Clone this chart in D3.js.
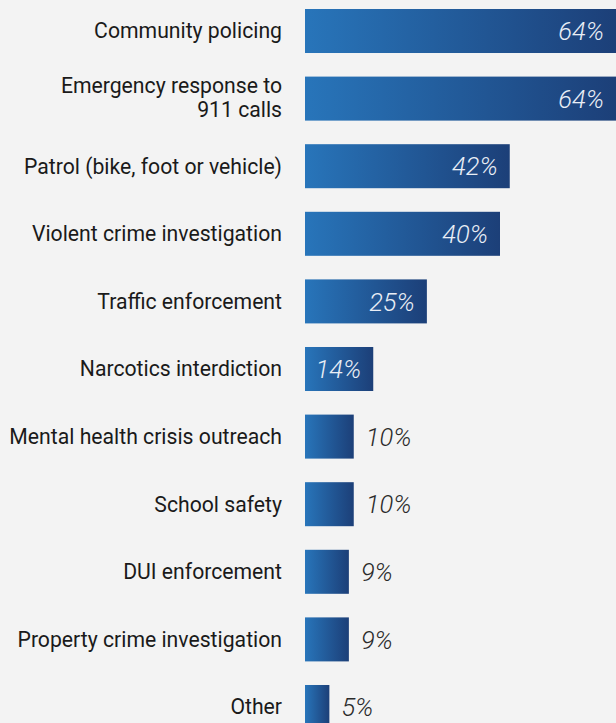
<!DOCTYPE html>
<html>
<head>
<meta charset="utf-8">
<script src="https://cdn.jsdelivr.net/npm/d3@7"></script>
<style>
  html, body { margin: 0; padding: 0; background: #f3f3f3; overflow: hidden; }
  svg { display: block; }
</style>
</head>
<body>
<script>
// Police functions and share of agencies naming each one
const categories = [
  "Community policing",
  "Emergency response to\n911 calls",
  "Patrol (bike, foot or vehicle)",
  "Violent crime investigation",
  "Traffic enforcement",
  "Narcotics interdiction",
  "Mental health crisis outreach",
  "School safety",
  "DUI enforcement",
  "Property crime investigation",
  "Other"
];
const values = [64, 64, 42, 40, 25, 14, 10, 10, 9, 9, 5];
const valueLabels = ["64%", "64%", "42%", "40%", "25%", "14%", "10%", "10%", "9%", "9%", "5%"];

const W = 616, H = 723;
const svg = d3.select("body").append("svg").attr("width", W).attr("height", H);

svg.append("rect").attr("width", W).attr("height", H).attr("fill", "#f3f3f3");

const defs = svg.append("defs");
const grad = defs.append("linearGradient").attr("id", "barGrad")
  .attr("x1", "0%").attr("x2", "100%").attr("y1", "0%").attr("y2", "0%");
grad.append("stop").attr("offset", "0%").attr("stop-color", "#2875ba");
grad.append("stop").attr("offset", "100%").attr("stop-color", "#1c3f78");

const x = d3.scaleLinear().domain([0, 64]).range([305, 617]);
const y = d3.scaleBand().domain(d3.range(categories.length))
  .range([9, 729]).paddingInner(0.349).paddingOuter(0);

const rows = svg.selectAll("g.row").data(values).join("g").attr("class", "row");

rows.append("rect")
  .attr("x", x(0))
  .attr("y", (d, i) => y(i))
  .attr("width", d => x(d) - x(0))
  .attr("height", y.bandwidth())
  .attr("fill", "url(#barGrad)");

// category labels
rows.each(function (d, i) {
  const lines = categories[i].split("\n");
  const cy = y(i) + y.bandwidth() / 2 - (lines.length > 1 ? 1.5 : 0);
  const lh = 24;
  const t = d3.select(this).append("text")
    .attr("x", 282)
    .attr("text-anchor", "end")
    .attr("font-family", "Roboto, sans-serif")
    .attr("font-size", 21.2)
    .attr("fill", "#1a1a1a");
  lines.forEach((ln, k) => {
    t.append("tspan")
      .attr("x", 282)
      .attr("y", cy + (k - (lines.length - 1) / 2) * lh)
      .attr("dy", "0.35em")
      .text(ln);
  });
});

// value labels: inside long bars, outside short ones
const inside = d => d >= 12;
rows.append("text")
  .attr("x", d => inside(d) ? Math.min(x(d), W) - 12 : x(d) + 12)
  .attr("y", (d, i) => y(i) + y.bandwidth() / 2)
  .attr("dy", "0.36em")
  .attr("text-anchor", d => inside(d) ? "end" : "start")
  .attr("font-family", "Roboto, sans-serif")
  .attr("font-style", "italic")
  .attr("font-weight", 300)
  .attr("font-size", 25.5)
  .attr("fill", d => inside(d) ? "#e9eef6" : "#2a2a2a")
  .text((d, i) => valueLabels[i]);
</script>
</body>
</html>
